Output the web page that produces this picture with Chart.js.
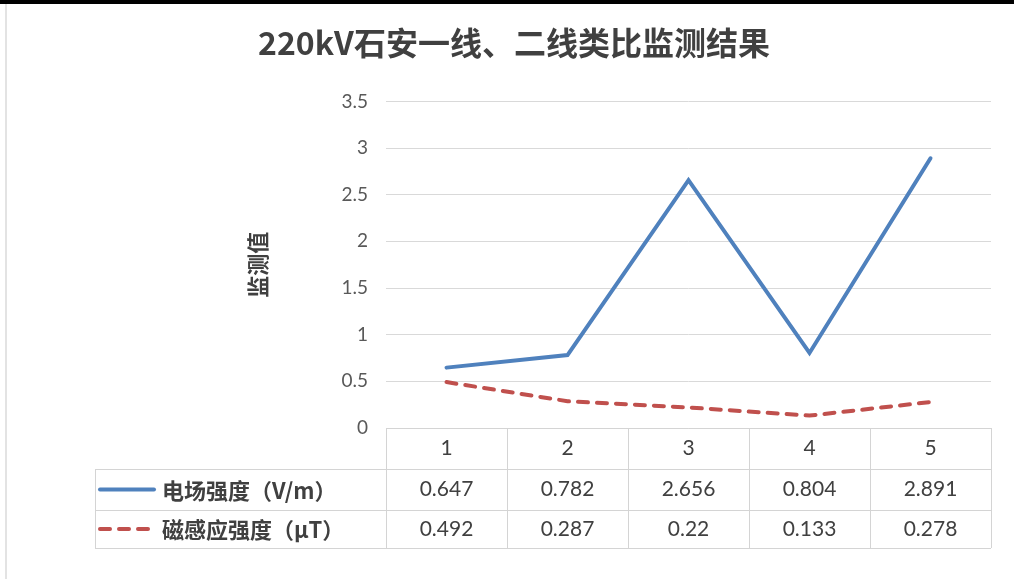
<!DOCTYPE html>
<html>
<head>
<meta charset="utf-8">
<script src="https://cdn.jsdelivr.net/npm/chart.js@4.4.1/dist/chart.umd.min.js"></script>
<style>
    html, body { margin: 0; padding: 0; background: #fff; overflow: hidden; }
    canvas { display: block; }
</style>
</head>
<body>
<canvas id="chart" width="1014" height="579"></canvas>
<script>
const categories = ['1', '2', '3', '4', '5'];
const seriesNames = ['电场强度（V/m）', '磁感应强度（μT）'];
const electricField = [0.647, 0.782, 2.656, 0.804, 2.891];
const magneticField = [0.492, 0.287, 0.22, 0.133, 0.278];
const yMin = 0, yMax = 3.5, yStep = 0.5;

const seriesColors = ['#4F81BD', '#C0504D'];
const seriesDash = [[], [10, 9]];
const seriesData = [electricField, magneticField];

const numFont = 'Lato, "Noto Sans", sans-serif';
const cjkFont = '"Noto Sans CJK SC", sans-serif';

// window frame strips of the screenshot
const frame = {
    id: 'frame',
    beforeDraw(chart) {
        const { ctx, width, height } = chart;
        ctx.save();
        ctx.fillStyle = '#fff';
        ctx.fillRect(0, 0, width, height);
        ctx.fillStyle = '#000';
        ctx.fillRect(0, 0, width, 4);
        ctx.fillStyle = '#e3e3e3';
        ctx.fillRect(5, 4, 2, height - 4);
        ctx.restore();
    }
};

// data table under the plot, drawn from the same arrays and the x scale
const dataTable = {
    id: 'dataTable',
    afterDraw(chart) {
        const { ctx, chartArea: a, scales: { x } } = chart;
        const cw = (a.right - a.left) / categories.length;
        const rows = [a.bottom, a.bottom + 41, a.bottom + 82, a.bottom + 120];
        const tableLeft = 95;
        ctx.save();
        ctx.strokeStyle = '#d4d4d4';
        ctx.lineWidth = 1;
        ctx.beginPath();
        ctx.moveTo(a.left, rows[0] + 0.5); ctx.lineTo(a.right, rows[0] + 0.5);
        for (let r = 1; r < rows.length; r++) {
            ctx.moveTo(tableLeft, rows[r] + 0.5); ctx.lineTo(a.right, rows[r] + 0.5);
        }
        for (let i = 0; i <= categories.length; i++) {
            const px = Math.round(a.left + i * cw) + 0.5;
            ctx.moveTo(px, rows[0]); ctx.lineTo(px, rows[3]);
        }
        ctx.moveTo(tableLeft + 0.5, rows[1]); ctx.lineTo(tableLeft + 0.5, rows[3]);
        ctx.stroke();

        ctx.textAlign = 'center';
        ctx.textBaseline = 'middle';
        ctx.fillStyle = '#404040';
        ctx.font = '21px ' + numFont;
        categories.forEach((c, i) => {
            const px = x.getPixelForValue(i);
            ctx.fillText(c, px, (rows[0] + rows[1]) / 2);
            seriesData.forEach((arr, s) => {
                ctx.fillText(String(arr[i]), px, (rows[s + 1] + rows[s + 2]) / 2);
            });
        });

        seriesNames.forEach((name, s) => {
            const cy = (rows[s + 1] + rows[s + 2]) / 2;
            ctx.beginPath();
            ctx.strokeStyle = seriesColors[s];
            ctx.lineWidth = 4;
            ctx.lineCap = 'round';
            ctx.setLineDash(seriesDash[s]);
            ctx.moveTo(100, cy); ctx.lineTo(154, cy);
            ctx.stroke();
            ctx.setLineDash([]);
            ctx.textAlign = 'left';
            ctx.fillStyle = '#404040';
            ctx.font = 'bold 22px ' + cjkFont;
            ctx.fillText(name, 162, cy + 1);
        });
        ctx.restore();
    }
};

new Chart(document.getElementById('chart'), {
    type: 'line',
    data: {
        labels: categories,
        datasets: seriesData.map((d, s) => ({
            label: seriesNames[s],
            data: d,
            borderColor: seriesColors[s],
            backgroundColor: seriesColors[s],
            borderWidth: 4,
            borderDash: seriesDash[s],
            borderCapStyle: 'round',
            pointRadius: 0,
            tension: 0
        }))
    },
    options: {
        responsive: false,
        animation: false,
        layout: { padding: { left: 37, right: 23, top: 0, bottom: 151 } },
        plugins: {
            legend: { display: false },
            tooltip: { enabled: false },
            title: {
                display: true,
                text: '220kV石安一线、二线类比监测结果',
                color: '#404040',
                font: { family: cjkFont, size: 32, weight: 'bold' },
                padding: { top: 24, bottom: 39 }
            }
        },
        scales: {
            x: {
                display: false,
                offset: true
            },
            y: {
                min: yMin,
                max: yMax,
                ticks: {
                    stepSize: yStep,
                    color: '#595959',
                    font: { family: numFont, size: 19 },
                    padding: 18,
                    callback: (v) => String(v)
                },
                grid: { color: '#d9d9d9', drawTicks: false },
                border: { display: false },
                title: {
                    display: true,
                    text: '监测值',
                    color: '#404040',
                    font: { family: cjkFont, size: 22, weight: 'bold' },
                    padding: { top: 207, bottom: 0 }
                },
                afterFit(scale) { scale.width = 349; }
            }
        }
    },
    plugins: [frame, dataTable]
});
</script>
</body>
</html>
